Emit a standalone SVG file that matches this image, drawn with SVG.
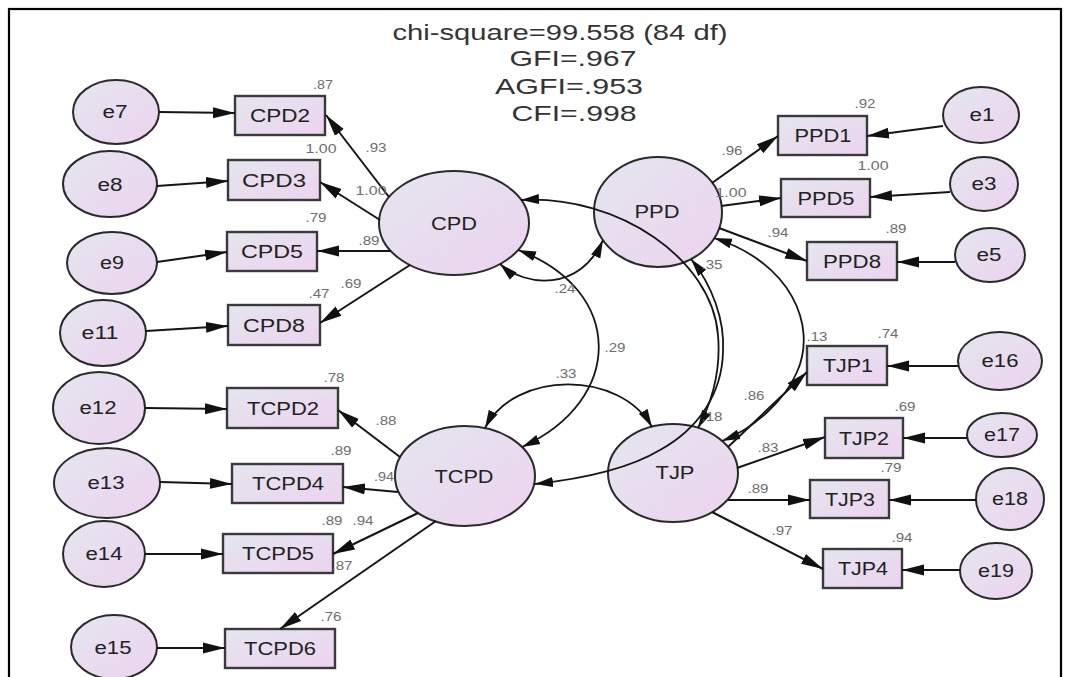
<svg xmlns="http://www.w3.org/2000/svg" width="1070" height="677" viewBox="0 0 1070 677">
<defs>
<linearGradient id="g" x1="0" y1="0" x2="1" y2="1">
<stop offset="0" stop-color="#e4e6ef"/>
<stop offset="1" stop-color="#edd3ef"/>
</linearGradient>
<marker id="ah" markerUnits="userSpaceOnUse" markerWidth="22" markerHeight="13" refX="22" refY="6.5" orient="auto-start-reverse">
<path d="M0,1 L22,6.5 L0,12 z" fill="#111"/>
</marker>
<marker id="ah2" markerUnits="userSpaceOnUse" markerWidth="18" markerHeight="12" refX="18" refY="6" orient="auto-start-reverse">
<path d="M0,1 L18,6 L0,11 z" fill="#111"/>
</marker>
</defs>
<style>
.n ellipse, .n rect { fill: url(#g); stroke: #2a2a2a; stroke-width: 2; }
.n rect { stroke: #3a3a3a; stroke-width: 2.4; }
.n text { font-family: "Liberation Sans", Arial, sans-serif; font-size: 18px; fill: #222; text-anchor: middle; }
.c path { fill: none; stroke: #151515; stroke-width: 2; }
.c .s { marker-end: url(#ah); }
.c .d { marker-start: url(#ah2); marker-end: url(#ah2); stroke-width: 1.8; }
.lb text { font-family: "Liberation Sans", Arial, sans-serif; font-size: 12px; fill: #6e6e6e; text-anchor: middle; }
.t text { font-family: "Liberation Sans", Arial, sans-serif; font-size: 22px; fill: #333; text-anchor: middle; }
</style>
<rect x="0" y="0" width="1070" height="677" fill="#fff"/>
<rect x="9" y="9" width="1052" height="700" fill="none" stroke="#000" stroke-width="2.2"/>

<g class="t">
<text x="560" y="40" textLength="335" lengthAdjust="spacingAndGlyphs">chi-square=99.558 (84 df)</text>
<text x="573" y="66" textLength="127" lengthAdjust="spacingAndGlyphs">GFI=.967</text>
<text x="569" y="94" textLength="148" lengthAdjust="spacingAndGlyphs">AGFI=.953</text>
<text x="574" y="121" textLength="125" lengthAdjust="spacingAndGlyphs">CFI=.998</text>
</g>

<!-- latent variables -->
<g id="CPD" class="n"><ellipse cx="454" cy="223" rx="75" ry="52"/><text x="454" y="230" textLength="46" lengthAdjust="spacingAndGlyphs">CPD</text></g>
<g id="PPD" class="n"><ellipse cx="658" cy="212" rx="64" ry="55"/><text x="657" y="218" textLength="45" lengthAdjust="spacingAndGlyphs">PPD</text></g>
<g id="TCPD" class="n"><ellipse cx="465" cy="476" rx="70" ry="50"/><text x="464" y="483" textLength="59" lengthAdjust="spacingAndGlyphs">TCPD</text></g>
<g id="TJP" class="n"><ellipse cx="673" cy="473" rx="65" ry="49"/><text x="675" y="479" textLength="39" lengthAdjust="spacingAndGlyphs">TJP</text></g>

<!-- observed -->
<g id="CPD2" class="n"><rect x="235" y="96" width="90" height="39"/><text x="280" y="122" textLength="60" lengthAdjust="spacingAndGlyphs">CPD2</text></g>
<g id="CPD3" class="n"><rect x="228" y="160" width="92" height="40"/><text x="274" y="187" textLength="64" lengthAdjust="spacingAndGlyphs">CPD3</text></g>
<g id="CPD5" class="n"><rect x="227" y="232" width="90" height="39"/><text x="272" y="258" textLength="62" lengthAdjust="spacingAndGlyphs">CPD5</text></g>
<g id="CPD8" class="n"><rect x="228" y="305" width="92" height="40"/><text x="274" y="332" textLength="62" lengthAdjust="spacingAndGlyphs">CPD8</text></g>
<g id="TCPD2" class="n"><rect x="227" y="388" width="111" height="40"/><text x="283" y="415" textLength="72" lengthAdjust="spacingAndGlyphs">TCPD2</text></g>
<g id="TCPD4" class="n"><rect x="232" y="464" width="111" height="39"/><text x="288" y="490" textLength="72" lengthAdjust="spacingAndGlyphs">TCPD4</text></g>
<g id="TCPD5" class="n"><rect x="223" y="534" width="110" height="39"/><text x="278" y="560" textLength="72" lengthAdjust="spacingAndGlyphs">TCPD5</text></g>
<g id="TCPD6" class="n"><rect x="225" y="629" width="110" height="39"/><text x="280" y="655" textLength="72" lengthAdjust="spacingAndGlyphs">TCPD6</text></g>
<g id="PPD1" class="n"><rect x="778" y="116" width="89" height="39"/><text x="823" y="142" textLength="57" lengthAdjust="spacingAndGlyphs">PPD1</text></g>
<g id="PPD5" class="n"><rect x="781" y="179" width="89" height="38"/><text x="826" y="205" textLength="57" lengthAdjust="spacingAndGlyphs">PPD5</text></g>
<g id="PPD8" class="n"><rect x="807" y="242" width="90" height="38"/><text x="852" y="268" textLength="58" lengthAdjust="spacingAndGlyphs">PPD8</text></g>
<g id="TJP1" class="n"><rect x="807" y="346" width="80" height="39"/><text x="848" y="372" textLength="50" lengthAdjust="spacingAndGlyphs">TJP1</text></g>
<g id="TJP2" class="n"><rect x="825" y="418" width="78" height="40"/><text x="864" y="445" textLength="50" lengthAdjust="spacingAndGlyphs">TJP2</text></g>
<g id="TJP3" class="n"><rect x="810" y="480" width="79" height="38"/><text x="850" y="506" textLength="50" lengthAdjust="spacingAndGlyphs">TJP3</text></g>
<g id="TJP4" class="n"><rect x="823" y="549" width="79" height="39"/><text x="863" y="575" textLength="50" lengthAdjust="spacingAndGlyphs">TJP4</text></g>

<!-- errors -->
<g id="e7" class="n"><ellipse cx="116" cy="112" rx="43" ry="32"/><text x="115" y="118" textLength="25" lengthAdjust="spacingAndGlyphs">e7</text></g>
<g id="e8" class="n"><ellipse cx="110" cy="184" rx="47" ry="33"/><text x="110" y="191" textLength="25" lengthAdjust="spacingAndGlyphs">e8</text></g>
<g id="e9" class="n"><ellipse cx="112" cy="263" rx="45" ry="31"/><text x="112" y="269" textLength="24" lengthAdjust="spacingAndGlyphs">e9</text></g>
<g id="e11" class="n"><ellipse cx="103" cy="333" rx="43" ry="33"/><text x="100" y="339" textLength="37" lengthAdjust="spacingAndGlyphs">e11</text></g>
<g id="e12" class="n"><ellipse cx="99" cy="408" rx="46" ry="36"/><text x="98" y="414" textLength="37" lengthAdjust="spacingAndGlyphs">e12</text></g>
<g id="e13" class="n"><ellipse cx="107" cy="483" rx="53" ry="35"/><text x="106" y="489" textLength="37" lengthAdjust="spacingAndGlyphs">e13</text></g>
<g id="e14" class="n"><ellipse cx="104" cy="554" rx="41" ry="33"/><text x="104" y="560" textLength="37" lengthAdjust="spacingAndGlyphs">e14</text></g>
<g id="e15" class="n"><ellipse cx="114" cy="647" rx="43" ry="32"/><text x="113" y="654" textLength="37" lengthAdjust="spacingAndGlyphs">e15</text></g>
<g id="e1" class="n"><ellipse cx="981" cy="115" rx="38" ry="28"/><text x="982" y="121" textLength="25" lengthAdjust="spacingAndGlyphs">e1</text></g>
<g id="e3" class="n"><ellipse cx="984" cy="184" rx="34" ry="27"/><text x="984" y="190" textLength="25" lengthAdjust="spacingAndGlyphs">e3</text></g>
<g id="e5" class="n"><ellipse cx="990" cy="255" rx="35" ry="27"/><text x="989" y="261" textLength="25" lengthAdjust="spacingAndGlyphs">e5</text></g>
<g id="e16" class="n"><ellipse cx="1000" cy="361" rx="42" ry="29"/><text x="1000" y="367" textLength="37" lengthAdjust="spacingAndGlyphs">e16</text></g>
<g id="e17" class="n"><ellipse cx="1002" cy="435" rx="35" ry="22"/><text x="1002" y="441" textLength="36" lengthAdjust="spacingAndGlyphs">e17</text></g>
<g id="e18" class="n"><ellipse cx="1010" cy="499" rx="34" ry="31"/><text x="1010" y="505" textLength="36" lengthAdjust="spacingAndGlyphs">e18</text></g>
<g id="e19" class="n"><ellipse cx="996" cy="571" rx="36" ry="28"/><text x="996" y="577" textLength="36" lengthAdjust="spacingAndGlyphs">e19</text></g>

<!-- connectors -->
<g id="connectors" class="c">
<path class="s" d="M159,112 L235,113"/>
<path class="s" d="M157,186 L228,181"/>
<path class="s" d="M157,262 L227,252"/>
<path class="s" d="M146,331 L228,326"/>
<path class="s" d="M145,408 L227,409"/>
<path class="s" d="M160,482 L232,484"/>
<path class="s" d="M145,554 L223,554"/>
<path class="s" d="M157,648 L225,648"/>
<path class="s" d="M389,197 L326,115"/>
<path class="s" d="M380,220 L320,182"/>
<path class="s" d="M391,251 L317,251"/>
<path class="s" d="M410,265 L320,323"/>
<path class="s" d="M400,457 L338,410"/>
<path class="s" d="M398,492 L343,487"/>
<path class="s" d="M418,513 L333,554"/>
<path class="s" d="M436,521 L280,629"/>
<path class="s" d="M712,183 L778,136"/>
<path class="s" d="M721,206 L781,198"/>
<path class="s" d="M719,228 L807,261"/>
<path class="s" d="M728,447 L807,372"/>
<path class="s" d="M737,468 L825,437"/>
<path class="s" d="M728,500 L810,500"/>
<path class="s" d="M712,512 L823,569"/>
<path class="s" d="M943,126 L867,136"/>
<path class="s" d="M950,192 L870,197"/>
<path class="s" d="M955,262 L897,262"/>
<path class="s" d="M958,366 L887,366"/>
<path class="s" d="M967,438 L903,438"/>
<path class="s" d="M976,500 L889,500"/>
<path class="s" d="M960,570 L902,570"/>
<path class="d" d="M500,264 C525,287 580,292 603,240"/>
<path class="d" d="M518,250 C625,290 625,400 522,447"/>
<path class="d" d="M485,428 C515,370 620,370 652,427"/>
<path class="d" d="M521,200 C620,195 712,260 718,335 C721,370 712,402 698,428"/>
<path class="d" d="M691,259 C712,285 725,320 723,352 C722,392 700,428 660,450 C630,468 590,478 535,484"/>
<path class="d" d="M714,238 C790,262 818,325 797,372 C785,400 755,428 722,441"/>
</g>

<!-- labels -->
<g class="lb">
<text x="323" y="89" textLength="20" lengthAdjust="spacingAndGlyphs">.87</text>
<text x="321" y="153" textLength="31" lengthAdjust="spacingAndGlyphs">1.00</text>
<text x="376" y="152" textLength="21" lengthAdjust="spacingAndGlyphs">.93</text>
<text x="371" y="195" textLength="31" lengthAdjust="spacingAndGlyphs">1.00</text>
<text x="316" y="222" textLength="21" lengthAdjust="spacingAndGlyphs">.79</text>
<text x="369" y="245" textLength="21" lengthAdjust="spacingAndGlyphs">.89</text>
<text x="319" y="298" textLength="21" lengthAdjust="spacingAndGlyphs">.47</text>
<text x="351" y="288" textLength="21" lengthAdjust="spacingAndGlyphs">.69</text>
<text x="334" y="382" textLength="21" lengthAdjust="spacingAndGlyphs">.78</text>
<text x="386" y="425" textLength="21" lengthAdjust="spacingAndGlyphs">.88</text>
<text x="341" y="455" textLength="21" lengthAdjust="spacingAndGlyphs">.89</text>
<text x="384" y="481" textLength="20" lengthAdjust="spacingAndGlyphs">.94</text>
<text x="332" y="525" textLength="21" lengthAdjust="spacingAndGlyphs">.89</text>
<text x="363" y="525" textLength="21" lengthAdjust="spacingAndGlyphs">.94</text>
<text x="342" y="570" textLength="21" lengthAdjust="spacingAndGlyphs">.87</text>
<text x="331" y="621" textLength="21" lengthAdjust="spacingAndGlyphs">.76</text>
<text x="865" y="108" textLength="21" lengthAdjust="spacingAndGlyphs">.92</text>
<text x="873" y="170" textLength="31" lengthAdjust="spacingAndGlyphs">1.00</text>
<text x="732" y="155" textLength="21" lengthAdjust="spacingAndGlyphs">.96</text>
<text x="731" y="197" textLength="31" lengthAdjust="spacingAndGlyphs">1.00</text>
<text x="778" y="237" textLength="21" lengthAdjust="spacingAndGlyphs">.94</text>
<text x="896" y="233" textLength="21" lengthAdjust="spacingAndGlyphs">.89</text>
<text x="712" y="269" textLength="21" lengthAdjust="spacingAndGlyphs">.35</text>
<text x="817" y="341" textLength="21" lengthAdjust="spacingAndGlyphs">.13</text>
<text x="888" y="338" textLength="21" lengthAdjust="spacingAndGlyphs">.74</text>
<text x="754" y="400" textLength="21" lengthAdjust="spacingAndGlyphs">.86</text>
<text x="712" y="421" textLength="21" lengthAdjust="spacingAndGlyphs">.18</text>
<text x="905" y="411" textLength="21" lengthAdjust="spacingAndGlyphs">.69</text>
<text x="768" y="452" textLength="21" lengthAdjust="spacingAndGlyphs">.83</text>
<text x="891" y="472" textLength="21" lengthAdjust="spacingAndGlyphs">.79</text>
<text x="758" y="493" textLength="21" lengthAdjust="spacingAndGlyphs">.89</text>
<text x="782" y="535" textLength="21" lengthAdjust="spacingAndGlyphs">.97</text>
<text x="902" y="542" textLength="21" lengthAdjust="spacingAndGlyphs">.94</text>
<text x="565" y="293" textLength="21" lengthAdjust="spacingAndGlyphs">.24</text>
<text x="615" y="352" textLength="21" lengthAdjust="spacingAndGlyphs">.29</text>
<text x="566" y="378" textLength="21" lengthAdjust="spacingAndGlyphs">.33</text>
</g>
</svg>
